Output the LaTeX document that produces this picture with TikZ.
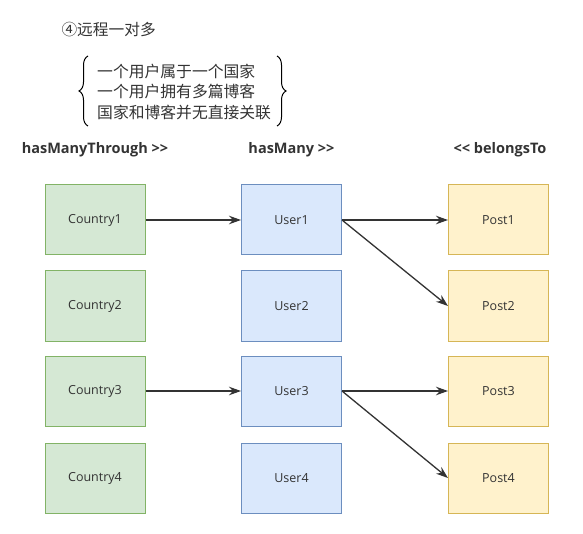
\documentclass[tikz,border=0pt]{standalone}
\usepackage{fontspec}
\setmainfont{Open Sans}
\newfontfamily\cjk{Noto Sans CJK SC}
\usetikzlibrary{arrows.meta,decorations.pathreplacing}
\definecolor{txt}{HTML}{333333}
\definecolor{gfill}{HTML}{D5E8D4}
\definecolor{gline}{HTML}{82B366}
\definecolor{bfill}{HTML}{DAE8FC}
\definecolor{bline}{HTML}{6C8EBF}
\definecolor{yfill}{HTML}{FFF2CC}
\definecolor{yline}{HTML}{D6B656}

\begin{document}
\begin{tikzpicture}[x=1pt, y=-1pt, text=txt,
		box/.style={draw, line width=1pt, rectangle, minimum width=100pt, minimum height=70pt, inner sep=0pt, font=\fontsize{12.5}{14}\selectfont},
		country/.style={box, fill=gfill, draw=gline},
		user/.style={box, fill=bfill, draw=bline},
		post/.style={box, fill=yfill, draw=yline},
		head/.style={font=\fontsize{14.5}{17}\selectfont\bfseries},
		link/.style={draw=txt, line width=1.3pt, -{Stealth[length=12pt, width=8.5pt]}}]
				\useasboundingbox (0, 0) rectangle (583, 534);
				\node[anchor=west, font=\cjk\fontsize{15.7}{18}\selectfont] (T)at(58, 30) {④远程一对多};
				\node[anchor=west, align=left, inner sep=0pt, font=\cjk\fontsize{15.8}{20.5}\selectfont] (N)at(97, 92) {一个用户属于一个国家\\一个用户拥有多篇博客\\国家和博客并无直接关联};
				\draw[line width=1pt, decorate, decoration={brace, amplitude=9pt}] (88, 126) -- (88, 56);
				\draw[line width=1pt, decorate, decoration={brace, amplitude=9pt}] (277, 56) -- (277, 126);
				\node[head] (H1)at(95, 150) {hasManyThrough >{}>};
				\node[head] (H2)at(291.5, 150) {hasMany >{}>};
				\node[head] (H3)at(500, 150) {<{}< belongsTo};
				\node[country] (C1)at(95, 220) {Country1};
				\node[country] (C2)at(95, 306) {Country2};
				\node[country] (C3)at(95, 391) {Country3};
				\node[country] (C4)at(95, 478) {Country4};
				\node[user] (U1)at(291.5, 220) {User1};
				\node[user] (U2)at(291.5, 306) {User2};
				\node[user] (U3)at(291.5, 391) {User3};
				\node[user] (U4)at(291.5, 478) {User4};
				\node[post] (P1)at(498.5, 220) {Post1};
				\node[post] (P2)at(498.5, 306) {Post2};
				\node[post] (P3)at(498.5, 391) {Post3};
				\node[post] (P4)at(498.5, 478) {Post4};
				\draw[link] (C1) -- (U1);
				\draw[link] (U1) -- (P1);
				\draw[link] (U1.east) -- (P2.west);
				\draw[link] (C3) -- (U3);
				\draw[link] (U3) -- (P3);
				\draw[link] (U3.east) -- (P4.west);
			\end{tikzpicture}
\end{document}
